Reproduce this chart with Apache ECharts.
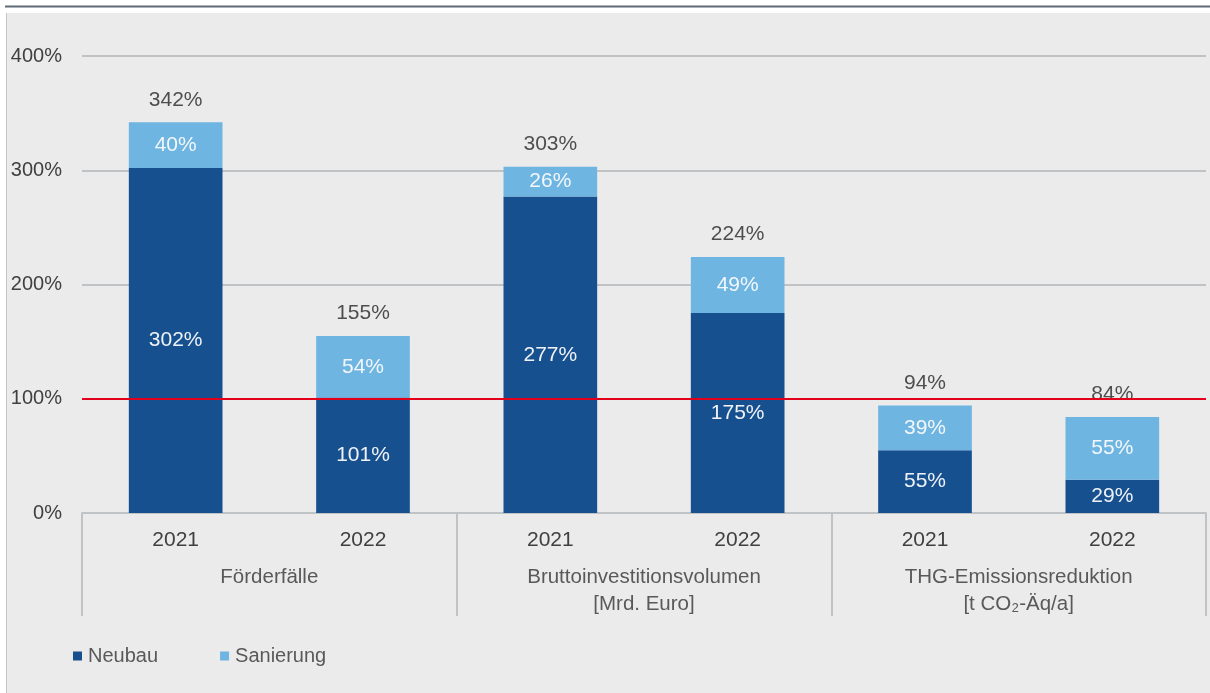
<!DOCTYPE html>
<html lang="de">
<head>
<meta charset="utf-8">
<title>Förderfälle, Bruttoinvestitionsvolumen und THG-Emissionsreduktion</title>
<script src="https://cdn.jsdelivr.net/npm/echarts@6/dist/echarts.min.js"></script>
<style>
  html, body { margin: 0; padding: 0; background: #ffffff; }
  #chart { width: 1210px; height: 693px; }
</style>
</head>
<body>
<div id="chart"></div>
<script>
// Jahre je Kennzahl (zwei Balken pro Gruppe)
const years = ['2021', '2022', '2021', '2022', '2021', '2022'];
// Kennzahlen-Gruppen unter der Achse
const groups = [
  'Förderfälle',
  'Bruttoinvestitionsvolumen\n[Mrd. Euro]',
  'THG-Emissionsreduktion\n[t CO₂-Äq/a]'
];
// Anteile in Prozent
const neubau = [302, 101, 277, 175, 55, 29];
const sanierung = [40, 54, 26, 49, 39, 55];
// Summen über beide Teile
const totals = neubau.map((v, i) => v + sanierung[i]);
// Y-Achse
const yTicks = [0, 100, 200, 300, 400];
const referenceLine = 100;

const FONT = "'Liberation Sans', Arial, sans-serif";
const GRID_GREY = '#bfc3c5';

const chart = echarts.init(document.getElementById('chart'), null, { renderer: 'canvas' });

chart.setOption({
  animation: false,
  backgroundColor: '#ffffff',
  textStyle: { fontFamily: FONT },
  graphic: [
    {
      type: 'rect', z: -10, silent: true,
      shape: { x: 6, y: 13, width: 1204, height: 680 },
      style: { fill: '#ebebeb' }
    },
    {
      type: 'line', z: -9, silent: true,
      shape: { x1: 6.5, y1: 13, x2: 6.5, y2: 693 },
      style: { stroke: '#c4c6c8', lineWidth: 1 }
    },
    {
      type: 'line', z: -9, silent: true,
      shape: { x1: 5, y1: 6.5, x2: 1210, y2: 6.5 },
      style: { stroke: '#5e6a74', lineWidth: 2 }
    }
  ],
  grid: { left: 82, right: 4, top: 56, bottom: 180, containLabel: false },
  legend: {
    left: 73, top: 646, padding: 0,
    icon: 'rect', itemWidth: 9, itemHeight: 9, itemGap: 62,
    textStyle: { fontFamily: FONT, fontSize: 20, color: '#595959', padding: [0, 0, 0, 1] },
    data: ['Neubau', 'Sanierung']
  },
  xAxis: [
    {
      type: 'category', data: years, position: 'bottom',
      axisLine: { show: true, lineStyle: { color: GRID_GREY, width: 2 } },
      axisTick: { show: false },
      axisLabel: { margin: 15, fontSize: 21, lineHeight: 24, color: '#404040', fontFamily: FONT, interval: 0 }
    },
    {
      type: 'category', data: groups, position: 'bottom',
      axisLine: { show: false },
      axisTick: { show: true, length: 103, interval: 0, lineStyle: { color: GRID_GREY, width: 2 } },
      axisLabel: { margin: 51, fontSize: 20.5, lineHeight: 27, color: '#595959', fontFamily: FONT, interval: 0 }
    }
  ],
  yAxis: {
    type: 'value', min: yTicks[0], max: yTicks[yTicks.length - 1], interval: 100,
    axisLine: { show: false }, axisTick: { show: false },
    axisLabel: { formatter: '{value}%', margin: 20, fontSize: 20, color: '#404040', fontFamily: FONT },
    splitLine: { lineStyle: { color: GRID_GREY, width: 2 } }
  },
  series: [
    {
      name: 'Neubau', type: 'bar', stack: 'anteil', barWidth: '50%',
      itemStyle: { color: '#17508f' },
      label: {
        show: true, position: 'inside', formatter: '{c}%',
        fontSize: 21, color: '#eef2f7', fontFamily: FONT
      },
      data: neubau,
      markLine: {
        silent: true, symbol: 'none', z: 10,
        label: { show: false },
        lineStyle: { color: '#e2001a', width: 2, type: 'solid' },
        data: [{ yAxis: referenceLine }]
      }
    },
    {
      name: 'Sanierung', type: 'bar', stack: 'anteil', barWidth: '50%',
      itemStyle: { color: '#6fb5e1' },
      label: {
        show: true, position: 'inside', formatter: '{c}%',
        fontSize: 21, color: '#f2f7fb', fontFamily: FONT
      },
      data: sanierung
    },
    {
      name: 'Summe', type: 'scatter', symbolSize: 0.1,
      itemStyle: { color: 'rgba(0,0,0,0)' },
      label: {
        show: true, position: 'top', distance: 12, formatter: '{c}%',
        fontSize: 21, color: '#262626', fontFamily: FONT
      },
      z: 5,
      data: totals
    }
  ]
});
</script>
</body>
</html>
